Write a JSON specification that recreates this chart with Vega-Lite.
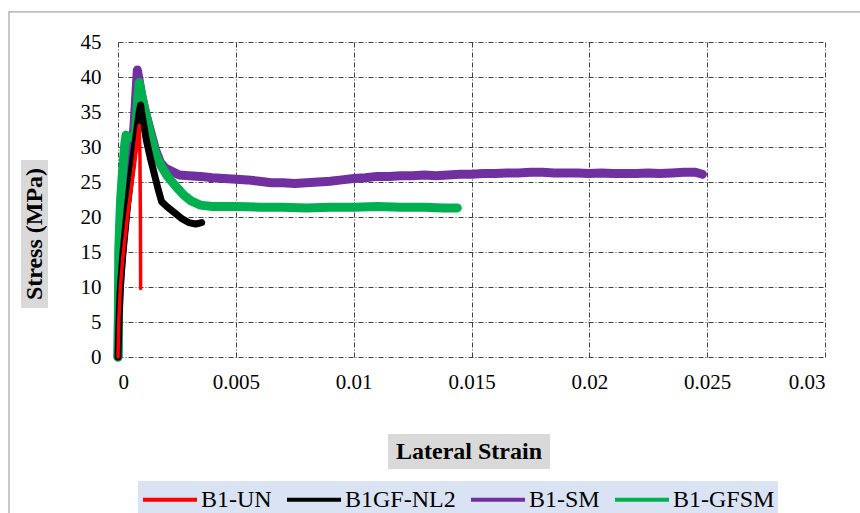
{
  "$schema": "https://vega.github.io/schema/vega-lite/v6.json",
  "width": 707,
  "height": 315,
  "autosize": {"type": "none"},
  "padding": {"left": 118, "top": 42, "right": 35, "bottom": 156},
  "background": "white",
  "config": {
    "font": "Liberation Serif",
    "view": {"stroke": null},
    "axis": {
      "domain": false,
      "ticks": false,
      "grid": true,
      "gridColor": "#404040",
      "gridDash": [5, 2, 1, 2],
      "gridWidth": 1,
      "gridOpacity": 1,
      "labelFont": "Liberation Serif",
      "labelFontSize": 21,
      "labelColor": "#000000"
    },
    "axisY": {"labelPadding": 17},
    "axisX": {"labelPadding": 14},
    "legend": {
      "orient": "none",
      "legendX": 20,
      "legendY": 439,
      "direction": "horizontal",
      "fillColor": "#dae3f3",
      "padding": 3,
      "symbolType": "M-1,0H3",
      "symbolSize": 729,
      "symbolStrokeWidth": 4,
      "labelFont": "Liberation Serif",
      "labelFontSize": 24,
      "labelColor": "#000000",
      "labelOffset": 29,
      "columnPadding": 7
    }
  },
  "datasets": {
    "curves": [
      {"series": "B1-SM", "strain": 0, "stress": 0},
      {"series": "B1-SM", "strain": 0.00003, "stress": 8},
      {"series": "B1-SM", "strain": 0.0001, "stress": 12.5},
      {"series": "B1-SM", "strain": 0.0002, "stress": 16.5},
      {"series": "B1-SM", "strain": 0.0003, "stress": 20},
      {"series": "B1-SM", "strain": 0.0004, "stress": 23.5},
      {"series": "B1-SM", "strain": 0.0005, "stress": 27},
      {"series": "B1-SM", "strain": 0.0006, "stress": 30},
      {"series": "B1-SM", "strain": 0.00068, "stress": 33},
      {"series": "B1-SM", "strain": 0.00075, "stress": 37},
      {"series": "B1-SM", "strain": 0.00082, "stress": 41},
      {"series": "B1-SM", "strain": 0.0009, "stress": 39.5},
      {"series": "B1-SM", "strain": 0.001, "stress": 37.5},
      {"series": "B1-SM", "strain": 0.0012, "stress": 34.5},
      {"series": "B1-SM", "strain": 0.0014, "stress": 32},
      {"series": "B1-SM", "strain": 0.0016, "stress": 29.5},
      {"series": "B1-SM", "strain": 0.0018, "stress": 27.8},
      {"series": "B1-SM", "strain": 0.002, "stress": 27},
      {"series": "B1-SM", "strain": 0.0023, "stress": 26.5},
      {"series": "B1-SM", "strain": 0.0026, "stress": 26},
      {"series": "B1-SM", "strain": 0.003, "stress": 25.9},
      {"series": "B1-SM", "strain": 0.0035, "stress": 25.8},
      {"series": "B1-SM", "strain": 0.004, "stress": 25.6},
      {"series": "B1-SM", "strain": 0.0045, "stress": 25.5},
      {"series": "B1-SM", "strain": 0.005, "stress": 25.4},
      {"series": "B1-SM", "strain": 0.0055, "stress": 25.3},
      {"series": "B1-SM", "strain": 0.006, "stress": 25.1},
      {"series": "B1-SM", "strain": 0.0065, "stress": 24.9},
      {"series": "B1-SM", "strain": 0.007, "stress": 24.9},
      {"series": "B1-SM", "strain": 0.0075, "stress": 24.8},
      {"series": "B1-SM", "strain": 0.008, "stress": 24.9},
      {"series": "B1-SM", "strain": 0.0085, "stress": 25.0},
      {"series": "B1-SM", "strain": 0.009, "stress": 25.1},
      {"series": "B1-SM", "strain": 0.0095, "stress": 25.3},
      {"series": "B1-SM", "strain": 0.01, "stress": 25.5},
      {"series": "B1-SM", "strain": 0.0105, "stress": 25.6},
      {"series": "B1-SM", "strain": 0.011, "stress": 25.8},
      {"series": "B1-SM", "strain": 0.0115, "stress": 25.8},
      {"series": "B1-SM", "strain": 0.012, "stress": 25.9},
      {"series": "B1-SM", "strain": 0.0125, "stress": 25.9},
      {"series": "B1-SM", "strain": 0.013, "stress": 26},
      {"series": "B1-SM", "strain": 0.0135, "stress": 25.9},
      {"series": "B1-SM", "strain": 0.014, "stress": 26},
      {"series": "B1-SM", "strain": 0.0145, "stress": 26.1},
      {"series": "B1-SM", "strain": 0.015, "stress": 26.1},
      {"series": "B1-SM", "strain": 0.0155, "stress": 26.2},
      {"series": "B1-SM", "strain": 0.016, "stress": 26.2},
      {"series": "B1-SM", "strain": 0.0165, "stress": 26.3},
      {"series": "B1-SM", "strain": 0.017, "stress": 26.3},
      {"series": "B1-SM", "strain": 0.0175, "stress": 26.4},
      {"series": "B1-SM", "strain": 0.018, "stress": 26.4},
      {"series": "B1-SM", "strain": 0.0185, "stress": 26.3},
      {"series": "B1-SM", "strain": 0.019, "stress": 26.3},
      {"series": "B1-SM", "strain": 0.0195, "stress": 26.3},
      {"series": "B1-SM", "strain": 0.02, "stress": 26.2},
      {"series": "B1-SM", "strain": 0.0205, "stress": 26.3},
      {"series": "B1-SM", "strain": 0.021, "stress": 26.2},
      {"series": "B1-SM", "strain": 0.0215, "stress": 26.2},
      {"series": "B1-SM", "strain": 0.022, "stress": 26.2},
      {"series": "B1-SM", "strain": 0.0225, "stress": 26.3},
      {"series": "B1-SM", "strain": 0.023, "stress": 26.2},
      {"series": "B1-SM", "strain": 0.0235, "stress": 26.3},
      {"series": "B1-SM", "strain": 0.024, "stress": 26.4},
      {"series": "B1-SM", "strain": 0.0245, "stress": 26.4},
      {"series": "B1-SM", "strain": 0.0248, "stress": 26.1},

      {"series": "B1-GFSM", "strain": 0, "stress": 0},
      {"series": "B1-GFSM", "strain": 0.00002, "stress": 8},
      {"series": "B1-GFSM", "strain": 0.00003, "stress": 15},
      {"series": "B1-GFSM", "strain": 0.00007, "stress": 19},
      {"series": "B1-GFSM", "strain": 0.00011, "stress": 22.4},
      {"series": "B1-GFSM", "strain": 0.00017, "stress": 25.5},
      {"series": "B1-GFSM", "strain": 0.00023, "stress": 28.1},
      {"series": "B1-GFSM", "strain": 0.00029, "stress": 30.5},
      {"series": "B1-GFSM", "strain": 0.00034, "stress": 31.7},
      {"series": "B1-GFSM", "strain": 0.00044, "stress": 31.5},
      {"series": "B1-GFSM", "strain": 0.00054, "stress": 31.4},
      {"series": "B1-GFSM", "strain": 0.00064, "stress": 31.3},
      {"series": "B1-GFSM", "strain": 0.00072, "stress": 31.2},
      {"series": "B1-GFSM", "strain": 0.00078, "stress": 34},
      {"series": "B1-GFSM", "strain": 0.00085, "stress": 37.5},
      {"series": "B1-GFSM", "strain": 0.0009, "stress": 39.2},
      {"series": "B1-GFSM", "strain": 0.001, "stress": 37.5},
      {"series": "B1-GFSM", "strain": 0.0011, "stress": 35.8},
      {"series": "B1-GFSM", "strain": 0.00122, "stress": 34.2},
      {"series": "B1-GFSM", "strain": 0.0014, "stress": 31.5},
      {"series": "B1-GFSM", "strain": 0.00164, "stress": 28.6},
      {"series": "B1-GFSM", "strain": 0.00185, "stress": 27.2},
      {"series": "B1-GFSM", "strain": 0.0021, "stress": 25.8},
      {"series": "B1-GFSM", "strain": 0.0025, "stress": 24.2},
      {"series": "B1-GFSM", "strain": 0.0028, "stress": 23.1},
      {"series": "B1-GFSM", "strain": 0.0031, "stress": 22.3},
      {"series": "B1-GFSM", "strain": 0.0035, "stress": 21.7},
      {"series": "B1-GFSM", "strain": 0.004, "stress": 21.5},
      {"series": "B1-GFSM", "strain": 0.005, "stress": 21.5},
      {"series": "B1-GFSM", "strain": 0.006, "stress": 21.4},
      {"series": "B1-GFSM", "strain": 0.007, "stress": 21.4},
      {"series": "B1-GFSM", "strain": 0.008, "stress": 21.3},
      {"series": "B1-GFSM", "strain": 0.009, "stress": 21.4},
      {"series": "B1-GFSM", "strain": 0.01, "stress": 21.4},
      {"series": "B1-GFSM", "strain": 0.011, "stress": 21.5},
      {"series": "B1-GFSM", "strain": 0.012, "stress": 21.4},
      {"series": "B1-GFSM", "strain": 0.013, "stress": 21.4},
      {"series": "B1-GFSM", "strain": 0.0138, "stress": 21.3},
      {"series": "B1-GFSM", "strain": 0.0144, "stress": 21.3},

      {"series": "B1GF-NL2", "strain": 0, "stress": 0},
      {"series": "B1GF-NL2", "strain": 0.00005, "stress": 6},
      {"series": "B1GF-NL2", "strain": 0.0001, "stress": 10},
      {"series": "B1GF-NL2", "strain": 0.0002, "stress": 14.5},
      {"series": "B1GF-NL2", "strain": 0.0003, "stress": 18},
      {"series": "B1GF-NL2", "strain": 0.0004, "stress": 21.5},
      {"series": "B1GF-NL2", "strain": 0.0005, "stress": 24.5},
      {"series": "B1GF-NL2", "strain": 0.0006, "stress": 27.5},
      {"series": "B1GF-NL2", "strain": 0.0007, "stress": 30},
      {"series": "B1GF-NL2", "strain": 0.0008, "stress": 32.5},
      {"series": "B1GF-NL2", "strain": 0.0009, "stress": 35},
      {"series": "B1GF-NL2", "strain": 0.00096, "stress": 36},
      {"series": "B1GF-NL2", "strain": 0.001, "stress": 35},
      {"series": "B1GF-NL2", "strain": 0.0011, "stress": 33},
      {"series": "B1GF-NL2", "strain": 0.0012, "stress": 31},
      {"series": "B1GF-NL2", "strain": 0.00136, "stress": 28.6},
      {"series": "B1GF-NL2", "strain": 0.0015, "stress": 26.7},
      {"series": "B1GF-NL2", "strain": 0.0017, "stress": 24},
      {"series": "B1GF-NL2", "strain": 0.00185, "stress": 22.2},
      {"series": "B1GF-NL2", "strain": 0.00207, "stress": 21.5},
      {"series": "B1GF-NL2", "strain": 0.0024, "stress": 20.6},
      {"series": "B1GF-NL2", "strain": 0.0027, "stress": 19.8},
      {"series": "B1GF-NL2", "strain": 0.003, "stress": 19.2},
      {"series": "B1GF-NL2", "strain": 0.0033, "stress": 19.0},
      {"series": "B1GF-NL2", "strain": 0.00355, "stress": 19.2},

      {"series": "B1-UN", "strain": 0, "stress": 0},
      {"series": "B1-UN", "strain": 0.00003, "stress": 5},
      {"series": "B1-UN", "strain": 0.0001, "stress": 10},
      {"series": "B1-UN", "strain": 0.0002, "stress": 14},
      {"series": "B1-UN", "strain": 0.0003, "stress": 17},
      {"series": "B1-UN", "strain": 0.0004, "stress": 20},
      {"series": "B1-UN", "strain": 0.0005, "stress": 22.5},
      {"series": "B1-UN", "strain": 0.0006, "stress": 25},
      {"series": "B1-UN", "strain": 0.0007, "stress": 27.5},
      {"series": "B1-UN", "strain": 0.0008, "stress": 30.5},
      {"series": "B1-UN", "strain": 0.0009, "stress": 33.1},
      {"series": "B1-UN", "strain": 0.00093, "stress": 29},
      {"series": "B1-UN", "strain": 0.00095, "stress": 20},
      {"series": "B1-UN", "strain": 0.00096, "stress": 9.8}
    ]
  },
  "layer": [
    {
      "data": {"name": "curves"},
      "transform": [{"filter": "datum.series === 'B1-SM'"}],
      "mark": {"type": "line", "strokeWidth": 9, "strokeCap": "round", "strokeJoin": "round"},
      "encoding": {
        "x": {"field": "strain", "type": "quantitative",
          "scale": {"domain": [0, 0.03], "nice": false},
          "axis": {"values": [0, 0.005, 0.01, 0.015, 0.02, 0.025, 0.03], "format": "~g", "title": null}},
        "y": {"field": "stress", "type": "quantitative",
          "scale": {"domain": [0, 45], "nice": false},
          "axis": {"values": [0, 5, 10, 15, 20, 25, 30, 35, 40, 45], "title": null}},
        "color": {"field": "series", "type": "nominal", "title": null,
          "scale": {"domain": ["B1-UN", "B1GF-NL2", "B1-SM", "B1-GFSM"], "range": ["#ff0000", "#000000", "#7030a0", "#00b050"]}},
        "order": {"field": "strain", "type": "quantitative"}
      }
    },
    {
      "data": {"name": "curves"},
      "transform": [{"filter": "datum.series === 'B1-GFSM'"}],
      "mark": {"type": "line", "strokeWidth": 9, "strokeCap": "round", "strokeJoin": "round"},
      "encoding": {
        "x": {"field": "strain", "type": "quantitative",
          "axis": {"values": [0, 0.005, 0.01, 0.015, 0.02, 0.025, 0.03], "format": "~g", "title": null}},
        "y": {"field": "stress", "type": "quantitative",
          "axis": {"values": [0, 5, 10, 15, 20, 25, 30, 35, 40, 45], "title": null}},
        "color": {"field": "series", "type": "nominal", "title": null},
        "order": {"field": "strain", "type": "quantitative"}
      }
    },
    {
      "data": {"name": "curves"},
      "transform": [{"filter": "datum.series === 'B1GF-NL2'"}],
      "mark": {"type": "line", "strokeWidth": 7, "strokeCap": "round", "strokeJoin": "round"},
      "encoding": {
        "x": {"field": "strain", "type": "quantitative",
          "axis": {"values": [0, 0.005, 0.01, 0.015, 0.02, 0.025, 0.03], "format": "~g", "title": null}},
        "y": {"field": "stress", "type": "quantitative",
          "axis": {"values": [0, 5, 10, 15, 20, 25, 30, 35, 40, 45], "title": null}},
        "color": {"field": "series", "type": "nominal", "title": null},
        "order": {"field": "strain", "type": "quantitative"}
      }
    },
    {
      "data": {"name": "curves"},
      "transform": [{"filter": "datum.series === 'B1-UN'"}],
      "mark": {"type": "line", "strokeWidth": 3.5, "strokeCap": "round", "strokeJoin": "round"},
      "encoding": {
        "x": {"field": "strain", "type": "quantitative",
          "axis": {"values": [0, 0.005, 0.01, 0.015, 0.02, 0.025, 0.03], "format": "~g", "title": null}},
        "y": {"field": "stress", "type": "quantitative",
          "axis": {"values": [0, 5, 10, 15, 20, 25, 30, 35, 40, 45], "title": null}},
        "color": {"field": "series", "type": "nominal", "title": null},
        "order": {"field": "strain", "type": "quantitative"}
      }
    },
    {
      "data": {"values": [{"k": 1}]},
      "mark": {"type": "rect", "filled": false, "stroke": "#a6a6a6", "strokeWidth": 1.2},
      "encoding": {
        "x": {"datum": -0.004625, "type": "quantitative",
          "axis": {"values": [0, 0.005, 0.01, 0.015, 0.02, 0.025, 0.03], "format": "~g", "title": null}},
        "x2": {"datum": 0.04},
        "y": {"datum": 49.29, "type": "quantitative",
          "axis": {"values": [0, 5, 10, 15, 20, 25, 30, 35, 40, 45], "title": null}},
        "y2": {"datum": -30}
      }
    },
    {
      "data": {"values": [{"k": 1}]},
      "mark": {"type": "rect", "fill": "#d9d9d9"},
      "encoding": {
        "x": {"datum": -0.004116, "type": "quantitative",
          "axis": {"values": [0, 0.005, 0.01, 0.015, 0.02, 0.025, 0.03], "format": "~g", "title": null}},
        "x2": {"datum": -0.00297},
        "y": {"datum": 28.14, "type": "quantitative",
          "axis": {"values": [0, 5, 10, 15, 20, 25, 30, 35, 40, 45], "title": null}},
        "y2": {"datum": 7}
      }
    },
    {
      "data": {"values": [{"k": 1}]},
      "mark": {"type": "rect", "fill": "#d9d9d9"},
      "encoding": {
        "x": {"datum": 0.011457, "type": "quantitative",
          "axis": {"values": [0, 0.005, 0.01, 0.015, 0.02, 0.025, 0.03], "format": "~g", "title": null}},
        "x2": {"datum": 0.01833},
        "y": {"datum": -11, "type": "quantitative",
          "axis": {"values": [0, 5, 10, 15, 20, 25, 30, 35, 40, 45], "title": null}},
        "y2": {"datum": -16}
      }
    },
    {
      "data": {"values": [{"k": 1}]},
      "mark": {"type": "text", "text": "Lateral Strain", "font": "Liberation Serif", "fontWeight": "bold", "fontSize": 24, "color": "#000000", "align": "center", "baseline": "middle"},
      "encoding": {
        "x": {"datum": 0.014894, "type": "quantitative",
          "axis": {"values": [0, 0.005, 0.01, 0.015, 0.02, 0.025, 0.03], "format": "~g", "title": null}},
        "y": {"datum": -13.57, "type": "quantitative",
          "axis": {"values": [0, 5, 10, 15, 20, 25, 30, 35, 40, 45], "title": null}}
      }
    },
    {
      "data": {"values": [{"k": 1}]},
      "mark": {"type": "text", "text": "Stress (MPa)", "font": "Liberation Serif", "fontWeight": "bold", "fontSize": 24, "color": "#000000", "align": "center", "baseline": "middle", "angle": 270},
      "encoding": {
        "x": {"datum": -0.003543, "type": "quantitative",
          "axis": {"values": [0, 0.005, 0.01, 0.015, 0.02, 0.025, 0.03], "format": "~g", "title": null}},
        "y": {"datum": 17.57, "type": "quantitative",
          "axis": {"values": [0, 5, 10, 15, 20, 25, 30, 35, 40, 45], "title": null}}
      }
    }
  ]
}
